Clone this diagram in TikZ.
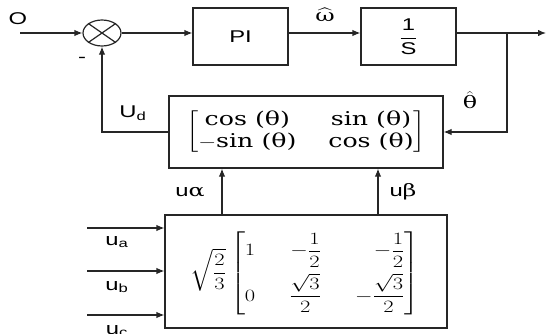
\documentclass[tikz,border=0pt]{standalone}
\usepackage{fontspec}
\usepackage{amsmath}
\usepackage{graphicx}
\setmainfont{DejaVu Serif}
\newfontfamily\sansf{Liberation Sans}
\usetikzlibrary{arrows.meta,shapes.geometric}
\newcommand\hs[1]{\scalebox{1.4}[1]{#1}}
\begin{document}
\begin{tikzpicture}[x=1pt,y=1pt,
  line/.style={line width=1.2pt, draw=black!85},
  arr/.style={line, -{Latex[length=8pt,width=6.5pt]}},
  blk/.style={line, minimum width=95pt, minimum height=57pt, inner sep=0pt},
  lab/.style={font=\sansf\fontsize{17}{20}\selectfont, inner sep=0pt},
  slab/.style={font=\fontsize{17}{20}\selectfont, inner sep=0pt},
]
\useasboundingbox (0,0) rectangle (547,333);
\clip (0,0) rectangle (547,333);

% blocks
\node[ellipse, line, minimum width=38pt, minimum height=26pt, inner sep=0pt] (sum) at (102,300) {};
\draw[line] (sum.north east) -- (sum.south west) (sum.north west) -- (sum.south east);
\node[blk] (pi) at (240.5,296.5) {\hs{\sansf\fontsize{17}{20}\selectfont PI}};
\node[blk] (int) at (408.5,296.5) {\hs{\sansf\fontsize{17}{20}\selectfont $\dfrac{\text{1}}{\text{S}}$}};
\node[line, minimum width=274pt, minimum height=72pt, inner sep=0pt] (park) at (306,201) {};
\node[inner sep=0pt, font=\fontsize{19}{22}\selectfont] (parkm) at (park.center) {\scalebox{1.33}[1]{$\left[\begin{array}{@{}c@{\hspace{24pt}}c@{}}\text{cos (θ)} & \text{sin (θ)}\\[0pt] -\text{sin (θ)} & \text{cos (θ)}\end{array}\right]$}};
\node[line, minimum width=282pt, minimum height=113pt, inner sep=0pt] (clarke) at (306,61.5) {};
\node[inner sep=0pt, font=\fontsize{19}{23}\selectfont] (clarkem) at (305,60) {\scalebox{1.3}[1]{$\displaystyle\sqrt{\frac{2}{3}}\left[\begin{array}{@{}l@{\hspace{26pt}}r@{\hspace{26pt}}r@{}}1 & -\dfrac{1}{2} & -\dfrac{1}{2}\\[11pt] 0 & \dfrac{\sqrt{3}}{2} & -\dfrac{\sqrt{3}}{2}\end{array}\right]$}};

% coordinates
\coordinate (in) at (20,300);
\coordinate (out) at (546,300);
\coordinate (br) at (507,300);
\coordinate (xa) at (222,0);
\coordinate (xb) at (378,0);
\coordinate (ua0) at (87,105);
\coordinate (ub0) at (87,62);
\coordinate (uc0) at (87,18);

% connectors
\draw[arr] (in) -- (sum.west);
\draw[arr] (sum.east) -- (sum.east -| pi.west);
\draw[arr] (pi.east |- sum.center) -- (int.west |- sum.center);
\draw[arr] (int.east |- sum.center) -- (out);
\draw[arr] (br) |- (park.east);
\draw[arr] (park.west) -| (sum.south);
\draw[arr] (clarke.north -| xa) -- (park.south -| xa);
\draw[arr] (clarke.north -| xb) -- (park.south -| xb);
\draw[arr] (ua0) -- (ua0 -| clarke.west);
\draw[arr] (ub0) -- (ub0 -| clarke.west);
\draw[arr] (uc0) -- (uc0 -| clarke.west);

% labels
\node[lab] (lo) at (18,314) {\hs{O}};
\node[lab] (lm) at (82,273) {\hs{-}};
\node[slab] (lw) at (325,318) {\hs{$\widehat{\text{ω}}$}};
\node[lab] (lud) at (133,220) {\hs{U\textsubscript{d}}};
\node[slab] (lth) at (470,233) {\hs{$\hat{\text{θ}}$}};
\node[lab] (lual) at (190,141) {\hs{u\fontspec{DejaVu Serif}α}};
\node[lab] (lube) at (403,141) {\hs{u\fontspec{DejaVu Serif}β}};
\node[lab] (lua) at (117,91) {\hs{u\textsubscript{a}}};
\node[lab] (lub) at (117,46) {\hs{u\textsubscript{b}}};
\node[lab] (luc) at (117,2) {\hs{u\textsubscript{c}}};
\end{tikzpicture}
\end{document}
